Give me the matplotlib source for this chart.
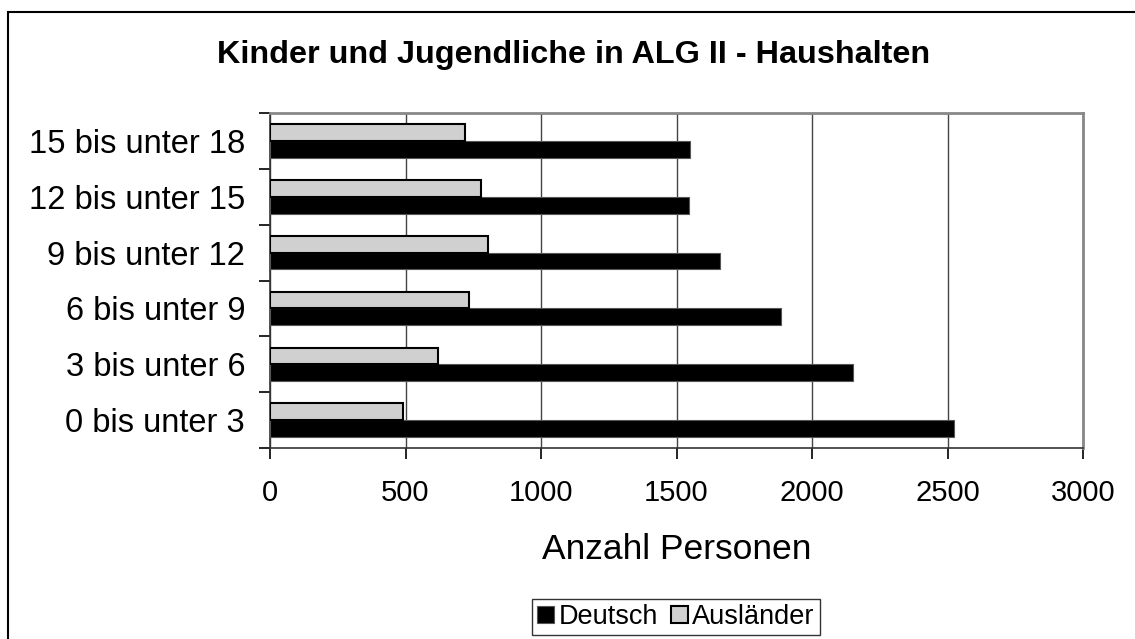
import numpy as np
import matplotlib
matplotlib.use("Agg")
import matplotlib.pyplot as plt
from matplotlib.patches import Rectangle

plt.rcParams["font.family"] = ["Liberation Sans", "DejaVu Sans"]

# DATA
categories = ["0 bis unter 3", "3 bis unter 6", "6 bis unter 9",
              "9 bis unter 12", "12 bis unter 15", "15 bis unter 18"]
deutsch = [2524, 2153, 1884, 1661, 1547, 1550]
auslaender = [490, 619, 734, 803, 777, 720]
xticks = [0, 500, 1000, 1500, 2000, 2500, 3000]

W, H = 1135, 639
fig = plt.figure(figsize=(W / 100, H / 100), dpi=100)
ax = fig.add_axes([270 / W, 1 - 448 / H, (1083 - 270) / W, (448 - 113) / H])

y = np.arange(len(categories))
h = 0.3
ax.barh(y - h / 2, deutsch, height=h, color="black", edgecolor="#555555",
        linewidth=0.8, label="Deutsch", zorder=3)
ax.barh(y + h / 2, auslaender, height=h, color="#d0d0d0", edgecolor="black",
        linewidth=1.5, label="Ausländer", zorder=3)

ax.set_xlim(0, 3000)
ax.set_ylim(-0.5, len(categories) - 0.5)
ax.set_xticks(xticks)
ax.set_xticklabels([str(v) for v in xticks], fontsize=21)
ax.set_yticks(y)
ax.set_yticklabels(categories, fontsize=23.5)
ax.set_yticks(np.arange(-0.5, len(categories), 1), minor=True)
ax.tick_params(axis="y", which="major", length=0, pad=18)
ax.tick_params(axis="y", which="minor", length=8, width=1.2, direction="out")
ax.tick_params(axis="x", length=8, width=1.2, direction="out", pad=14)
ax.xaxis.grid(True, color="#444444", linewidth=1.0, zorder=0)

for side in ["left", "bottom"]:
    ax.spines[side].set_color("#333333")
    ax.spines[side].set_linewidth(1.2)
for side in ["top", "right"]:
    ax.spines[side].set_color("#888888")
    ax.spines[side].set_linewidth(2)

ax.set_xlabel("Anzahl Personen", fontsize=25.5, labelpad=19)

fig.text(574 / W, 1 - 55 / H, "Kinder und Jugendliche in ALG II - Haushalten",
         fontsize=23.3, fontweight="bold", ha="center", va="center")

handles, labels = ax.get_legend_handles_labels()
leg = fig.legend(handles, labels, loc="center", bbox_to_anchor=(676 / W, 1 - 617 / H),
                 ncol=2, fontsize=19.5, frameon=True, fancybox=False, borderpad=0.2,
                 handlelength=0.62, handleheight=0.62, handletextpad=0.15,
                 columnspacing=0.5, borderaxespad=0)
leg.get_frame().set_edgecolor("black")
leg.get_frame().set_linewidth(1.0)

fig.patches.append(Rectangle((8 / W, -0.05), 1.1, 1 - 12 / H + 0.05,
                             transform=fig.transFigure, fill=False,
                             edgecolor="black", linewidth=1.5, clip_on=False))

fig.savefig("out.png", dpi=100)
